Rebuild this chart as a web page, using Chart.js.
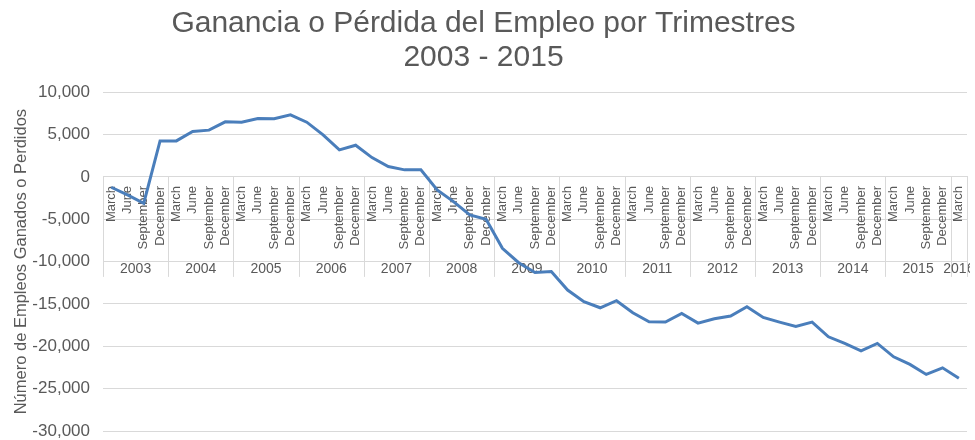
<!DOCTYPE html>
<html>
<head>
<meta charset="utf-8">
<script src="https://cdn.jsdelivr.net/npm/chart.js@4.4.1/dist/chart.umd.min.js"></script>
<style>
  body { margin: 0; background: #fff; }
  #wrap { width: 975px; height: 440px; }
</style>
</head>
<body>
<div id="wrap"><canvas id="chart"></canvas></div>
<script>
// data
var years = [2003, 2004, 2005, 2006, 2007, 2008, 2009, 2010, 2011, 2012, 2013, 2014, 2015, 2016];
var quarters = ["March", "June", "September", "December"];
var jobs = [
  -1220, -2130, -3110, 4250,
  4250, 5360, 5520, 6500,
  6460, 6900, 6860, 7330,
  6460, 4960, 3190, 3740,
  2280, 1220, 830, 830,
  -1540, -2920, -4490, -5000,
  -8430, -10130, -11290, -11170,
  -13360, -14740, -15450, -14620,
  -16040, -17100, -17140, -16110,
  -17260, -16750, -16430, -15330,
  -16590, -17140, -17650, -17140,
  -18880, -19660, -20530, -19660,
  -21240, -22140, -23320, -22540,
  -23760
];
var yTicks = { min: -30000, max: 10000, step: 5000 };

// one category per quarter, year kept alongside for the group row
var labels = [];
var labelYears = [];
for (var i = 0; i < jobs.length; i++) {
  labels.push(quarters[i % 4]);
  labelYears.push(years[Math.floor(i / 4)]);
}

var grey = "#595959";
var gridGrey = "#d9d9d9";
var font = "'Liberation Sans', Arial, sans-serif";

// year groups under the quarter labels
var yearGroups = {
  id: "yearGroups",
  beforeDatasetsDraw: function (chart) {
    var ctx = chart.ctx;
    var x = chart.scales.x;
    var y0 = chart.scales.y.getPixelForValue(0);
    var area = chart.chartArea;
    var half = (x.getPixelForValue(1) - x.getPixelForValue(0)) / 2;
    ctx.save();
    ctx.strokeStyle = gridGrey;
    ctx.lineWidth = 1;
    var start = 0;
    for (var i = 0; i <= labels.length; i++) {
      if (i === labels.length || labelYears[i] !== labelYears[start]) {
        var left = x.getPixelForValue(start) - half;
        var right = x.getPixelForValue(i - 1) + half;
        ctx.save();
        ctx.beginPath();
        ctx.rect(area.left, 0, area.right - area.left + 3, chart.height);
        ctx.clip();
        ctx.fillStyle = grey;
        ctx.font = "14px " + font;
        ctx.textAlign = "center";
        ctx.textBaseline = "middle";
        ctx.fillText(String(labelYears[start]), (left + right) / 2, y0 + 92);
        ctx.restore();
        start = i;
      }
      if (i === 0 || i === labels.length || labelYears[i] !== labelYears[i - 1]) {
        var bx = Math.round(x.getPixelForValue(Math.min(i, labels.length - 1)) + (i === labels.length ? half : -half)) + 0.5;
        ctx.beginPath();
        ctx.moveTo(bx, y0);
        ctx.lineTo(bx, y0 + 100);
        ctx.stroke();
      }
    }
    ctx.restore();
  }
};

new Chart(document.getElementById("chart"), {
  type: "line",
  data: {
    labels: labels,
    datasets: [{
      data: jobs,
      borderColor: "#4a7ebb",
      borderWidth: 3,
      pointRadius: 0,
      tension: 0,
      fill: false
    }]
  },
  options: {
    responsive: true,
    maintainAspectRatio: false,
    animation: false,
    layout: { padding: { left: 0, right: 8, top: 0, bottom: 9 } },
    plugins: {
      legend: { display: false },
      tooltip: { enabled: false },
      title: {
        display: true,
        text: ["Ganancia o Pérdida del Empleo por Trimestres", "2003 - 2015"],
        color: grey,
        font: { family: font, size: 30, weight: "normal", lineHeight: 1.12 },
        padding: { top: 7, bottom: 18 }
      }
    },
    scales: {
      x: {
        position: { y: 0 },
        offset: true,
        grid: { display: true, drawOnChartArea: false, drawTicks: false, color: gridGrey },
        border: { display: true, color: gridGrey, width: 1 },
        ticks: {
          autoSkip: false,
          minRotation: 90,
          maxRotation: 90,
          padding: 9,
          color: grey,
          font: { family: font, size: 13 }
        },
        afterFit: function (scale) {
          scale.height = 0;
          scale.paddingLeft = 0;
          scale.paddingRight = 0;
        }
      },
      y: {
        min: yTicks.min,
        max: yTicks.max,
        grid: { color: gridGrey, drawTicks: false },
        border: { display: false },
        ticks: {
          stepSize: yTicks.step,
          padding: 13,
          color: grey,
          font: { family: font, size: 17 },
          callback: function (v) { return v.toLocaleString("en-US"); }
        },
        title: {
          display: true,
          text: "Número de Empleos Ganados o Perdidos",
          color: grey,
          font: { family: font, size: 16.5 },
          padding: { top: 12, bottom: 0 }
        },
        afterFit: function (scale) {
          scale.width = 103;
          scale.paddingTop = 0;
          scale.paddingBottom = 0;
        }
      }
    }
  },
  plugins: [yearGroups]
});
</script>
</body>
</html>
